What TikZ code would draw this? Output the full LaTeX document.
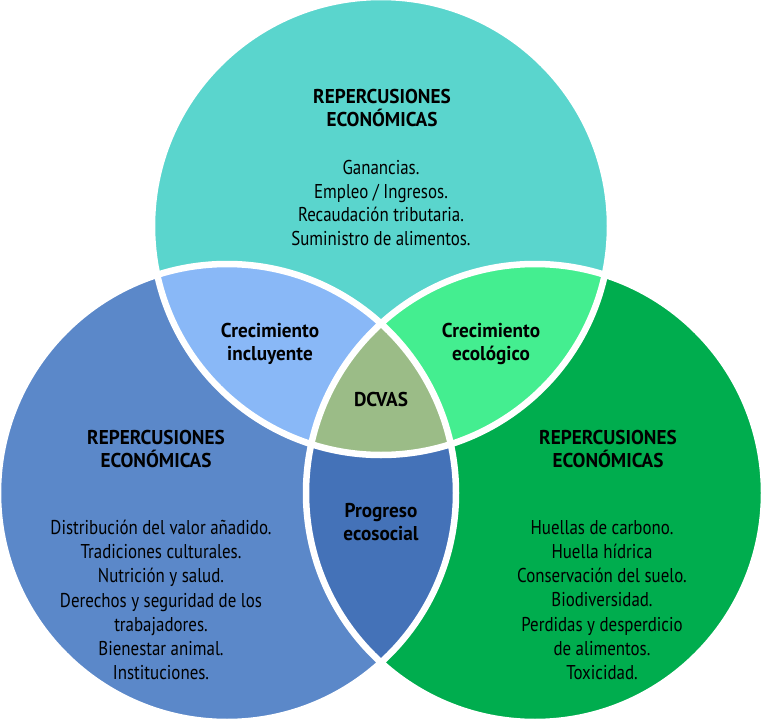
\documentclass[tikz,border=0pt]{standalone}
\usepackage{fontspec}
\setmainfont[FakeStretch=0.845]{PT Sans}
\newfontfamily\headfont[FakeStretch=0.96]{PT Sans}
\begin{document}
\begin{tikzpicture}[x=1pt,y=-1pt,
  body/.style={align=center,font=\fontsize{20}{23.8}\selectfont,inner sep=0pt},
  head/.style={align=center,font=\headfont\bfseries\fontsize{20}{23}\selectfont,inner sep=0pt}]
\definecolor{cTop}{HTML}{5AD5CD}
\definecolor{cLeft}{HTML}{5B88C9}
\definecolor{cRight}{HTML}{00AD4E}
\definecolor{cTL}{HTML}{89B8F7}
\definecolor{cTR}{HTML}{44EE90}
\definecolor{cLR}{HTML}{4472B8}
\definecolor{cAll}{HTML}{9BBC87}
\useasboundingbox (0,0) rectangle (761,720);
\fill[white] (0,0) rectangle (761,720);
\coordinate (T) at (381,226);
\coordinate (L) at (227,493);
\coordinate (R) at (535,493);
\def\rr{229pt}
% single circles
\fill[cTop] (T) circle[radius=\rr];
\fill[cLeft] (L) circle[radius=\rr];
\fill[cRight] (R) circle[radius=\rr];
% pairwise overlaps
\begin{scope}
  \clip (T) circle[radius=\rr];
  \fill[cTL] (L) circle[radius=\rr];
  \fill[cTR] (R) circle[radius=\rr];
\end{scope}
\begin{scope}
  \clip (L) circle[radius=\rr];
  \fill[cLR] (R) circle[radius=\rr];
\end{scope}
% centre overlap
\begin{scope}
  \clip (T) circle[radius=\rr];
  \clip (L) circle[radius=\rr];
  \fill[cAll] (R) circle[radius=\rr];
\end{scope}
% white separators
\draw[white,line width=6.5pt] (T) circle[radius=\rr] (L) circle[radius=\rr] (R) circle[radius=\rr];
% texts
\node[head] (tTop) at (382,107.5) {REPERCUSIONES\\ECONÓMICAS};
\node[body] (bTop) at (381,203) {Ganancias.\\Empleo / Ingresos.\\Recaudación tributaria.\\Suministro de alimentos.};
\node[head] (tLeft) at (156,448.5) {REPERCUSIONES\\ECONÓMICAS};
\node[body,font=\fontsize{20}{24.2}\selectfont] (bLeft) at (161,600) {Distribución del valor añadido.\\Tradiciones culturales.\\Nutrición y salud.\\Derechos y seguridad de los\\trabajadores.\\Bienestar animal.\\Instituciones.};
\node[head] (tRight) at (608,448.5) {REPERCUSIONES\\ECONÓMICAS};
\node[body,font=\fontsize{20}{24.2}\selectfont] (bRight) at (602,600) {Huellas de carbono.\\Huella hídrica\\Conservación del suelo.\\Biodiversidad.\\Perdidas y desperdicio\\de alimentos.\\Toxicidad.};
\node[head] (nTL) at (270,344) {Crecimiento\\incluyente};
\node[head] (nTR) at (491,344) {Crecimiento\\ecológico};
\node[head] (nAll) at (381,399) {DCVAS};
\node[head] (nLR) at (381,522) {Progreso\\ecosocial};
\end{tikzpicture}
\end{document}
